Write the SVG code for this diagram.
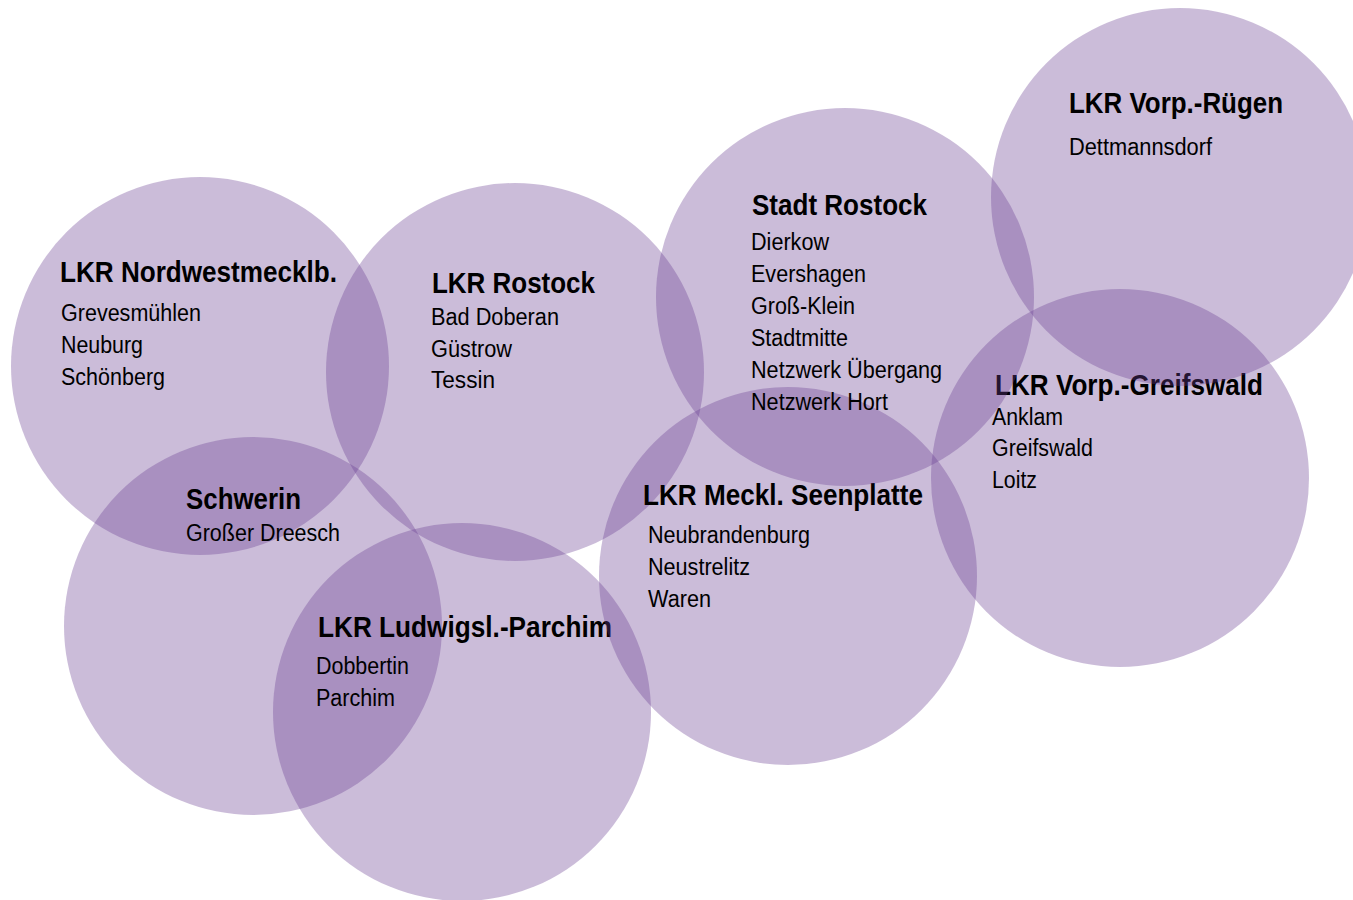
<svg xmlns="http://www.w3.org/2000/svg" width="1353" height="900" viewBox="0 0 1353 900">
<style>
.c{fill:rgb(105,60,144);fill-opacity:0.345}
.t{font-family:"Liberation Sans",Arial,sans-serif;font-weight:bold;font-size:29px;fill:#000}
.i{font-family:"Liberation Sans",Arial,sans-serif;font-size:23px;fill:#000}
</style>
<rect width="1353" height="900" fill="#fff"/>
<g id="nordwestmecklb">
<circle class="c" cx="200" cy="366" r="189"/>
<text class="t" x="60" y="282" textLength="277" lengthAdjust="spacingAndGlyphs">LKR Nordwestmecklb.</text>
<text class="i" x="61" y="321" textLength="140" lengthAdjust="spacingAndGlyphs">Grevesmühlen</text>
<text class="i" x="61" y="353" textLength="82" lengthAdjust="spacingAndGlyphs">Neuburg</text>
<text class="i" x="61" y="385" textLength="104" lengthAdjust="spacingAndGlyphs">Schönberg</text>
</g>
<g id="schwerin">
<circle class="c" cx="253" cy="626" r="189"/>
<text class="t" x="186" y="509" textLength="115" lengthAdjust="spacingAndGlyphs">Schwerin</text>
<text class="i" x="186" y="541" textLength="154" lengthAdjust="spacingAndGlyphs">Großer Dreesch</text>
</g>
<g id="ludwigslust-parchim">
<circle class="c" cx="462" cy="712" r="189"/>
<text class="t" x="318" y="637" textLength="294" lengthAdjust="spacingAndGlyphs">LKR Ludwigsl.-Parchim</text>
<text class="i" x="316" y="674" textLength="93" lengthAdjust="spacingAndGlyphs">Dobbertin</text>
<text class="i" x="316" y="706" textLength="79" lengthAdjust="spacingAndGlyphs">Parchim</text>
</g>
<g id="lkr-rostock">
<circle class="c" cx="515" cy="372" r="189"/>
<text class="t" x="432" y="293" textLength="163" lengthAdjust="spacingAndGlyphs">LKR Rostock</text>
<text class="i" x="431" y="325" textLength="128" lengthAdjust="spacingAndGlyphs">Bad Doberan</text>
<text class="i" x="431" y="357" textLength="81" lengthAdjust="spacingAndGlyphs">Güstrow</text>
<text class="i" x="431" y="388" textLength="64" lengthAdjust="spacingAndGlyphs">Tessin</text>
</g>
<g id="seenplatte">
<circle class="c" cx="788" cy="576" r="189"/>
<text class="t" x="643" y="505" textLength="280" lengthAdjust="spacingAndGlyphs">LKR Meckl. Seenplatte</text>
<text class="i" x="648" y="543" textLength="162" lengthAdjust="spacingAndGlyphs">Neubrandenburg</text>
<text class="i" x="648" y="575" textLength="102" lengthAdjust="spacingAndGlyphs">Neustrelitz</text>
<text class="i" x="648" y="607" textLength="63" lengthAdjust="spacingAndGlyphs">Waren</text>
</g>
<g id="greifswald">
<circle class="c" cx="1120" cy="478" r="189"/>
<text class="t" x="995" y="395" textLength="268" lengthAdjust="spacingAndGlyphs">LKR Vorp.-Greifswald</text>
<text class="i" x="992" y="425" textLength="71" lengthAdjust="spacingAndGlyphs">Anklam</text>
<text class="i" x="992" y="456" textLength="101" lengthAdjust="spacingAndGlyphs">Greifswald</text>
<text class="i" x="992" y="488" textLength="45" lengthAdjust="spacingAndGlyphs">Loitz</text>
</g>
<g id="ruegen">
<circle class="c" cx="1180" cy="197" r="189"/>
<text class="t" x="1069" y="113" textLength="214" lengthAdjust="spacingAndGlyphs">LKR Vorp.-Rügen</text>
<text class="i" x="1069" y="155" textLength="143" lengthAdjust="spacingAndGlyphs">Dettmannsdorf</text>
</g>
<g id="stadt-rostock">
<circle class="c" cx="845" cy="297" r="189"/>
<text class="t" x="752" y="215" textLength="175" lengthAdjust="spacingAndGlyphs">Stadt Rostock</text>
<text class="i" x="751" y="250" textLength="78" lengthAdjust="spacingAndGlyphs">Dierkow</text>
<text class="i" x="751" y="282" textLength="115" lengthAdjust="spacingAndGlyphs">Evershagen</text>
<text class="i" x="751" y="314" textLength="104" lengthAdjust="spacingAndGlyphs">Groß-Klein</text>
<text class="i" x="751" y="346" textLength="97" lengthAdjust="spacingAndGlyphs">Stadtmitte</text>
<text class="i" x="751" y="378" textLength="191" lengthAdjust="spacingAndGlyphs">Netzwerk Übergang</text>
<text class="i" x="751" y="410" textLength="137" lengthAdjust="spacingAndGlyphs">Netzwerk Hort</text>
</g>
<g id="connectors"/>
</svg>
